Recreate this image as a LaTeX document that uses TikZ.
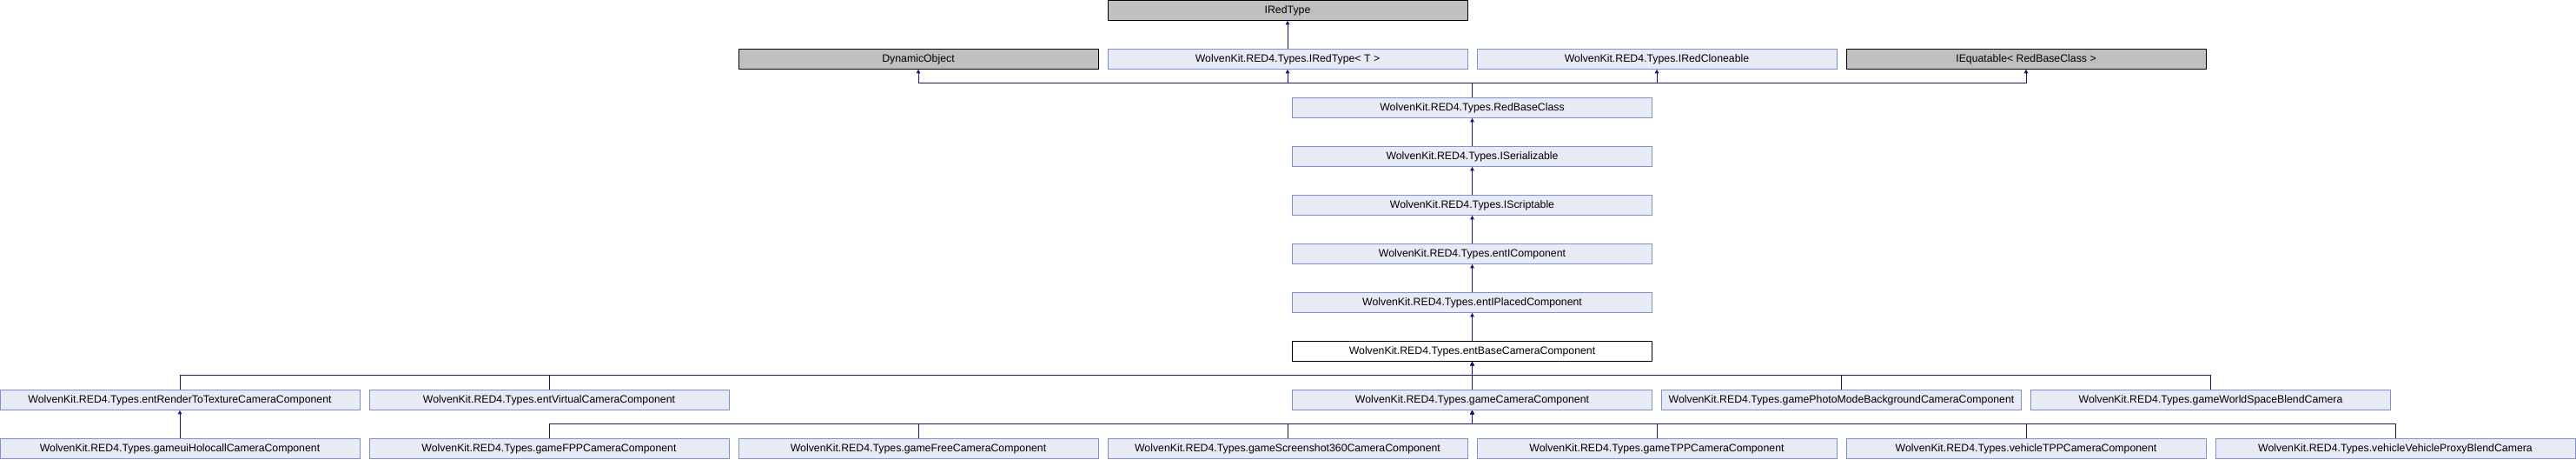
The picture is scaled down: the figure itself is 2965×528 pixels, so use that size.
\documentclass[tikz,border=0pt]{standalone}
\usepackage{fontspec}
\setmainfont{Liberation Sans}
\usetikzlibrary{positioning, arrows.meta}
\definecolor{clsfill}{HTML}{E8EBF5}
\definecolor{clsline}{HTML}{7B93CA}
\definecolor{extfill}{HTML}{BFBFBF}
\definecolor{edgeblue}{HTML}{191970}

\begin{document}
\begin{tikzpicture}[node distance=56pt and 425pt, on grid,
    cls/.style={draw=clsline, fill=clsfill, line width=1pt, minimum width=414pt,
      minimum height=22.6pt, inner sep=0pt, font=\fontsize{12.3}{14}\selectfont},
    ext/.style={cls, draw=black, fill=extfill},
    cur/.style={cls, draw=black, fill=white},
    link/.style={draw=edgeblue, line width=1pt, -{Triangle[length=4.5pt,width=4.5pt]}}]
  \useasboundingbox (0pt,0pt) rectangle (2965pt,-528pt);
  \node[cur] (base) at (1694.5pt,-404pt) {WolvenKit.RED4.Types.entBaseCameraComponent};
  \node[cls] (placed) [above=of base] {WolvenKit.RED4.Types.entIPlacedComponent};
  \node[cls] (icomp) [above=of placed] {WolvenKit.RED4.Types.entIComponent};
  \node[cls] (script) [above=of icomp] {WolvenKit.RED4.Types.IScriptable};
  \node[cls] (serial) [above=of script] {WolvenKit.RED4.Types.ISerializable};
  \node[cls] (redbase) [above=of serial] {WolvenKit.RED4.Types.RedBaseClass};
  \node[cls] (iredtypet) [above left=56pt and 212.5pt of redbase] {WolvenKit.RED4.Types.IRedType< T >};
  \node[ext] (dynobj) [left=of iredtypet] {DynamicObject};
  \node[cls] (clone) [right=of iredtypet] {WolvenKit.RED4.Types.IRedCloneable};
  \node[ext] (equat) [right=of clone] {IEquatable< RedBaseClass >};
  \node[ext] (iredtype) [above=of iredtypet] {IRedType};

  \node[cls] (gamecam) [below=of base] {WolvenKit.RED4.Types.gameCameraComponent};
  \node[cls] (photo) [right=of gamecam] {WolvenKit.RED4.Types.gamePhotoModeBackgroundCameraComponent};
  \node[cls] (world) [right=of photo] {WolvenKit.RED4.Types.gameWorldSpaceBlendCamera};
  \node[cls] (virtual) [left=56pt and 1062.5pt of gamecam] {WolvenKit.RED4.Types.entVirtualCameraComponent};
  \node[cls] (render) [left=of virtual] {WolvenKit.RED4.Types.entRenderToTextureCameraComponent};

  \node[cls] (shot) [below left=56pt and 212.5pt of gamecam] {WolvenKit.RED4.Types.gameScreenshot360CameraComponent};
  \node[cls] (free) [left=of shot] {WolvenKit.RED4.Types.gameFreeCameraComponent};
  \node[cls] (fpp) [left=of free] {WolvenKit.RED4.Types.gameFPPCameraComponent};
  \node[cls] (holo) [left=of fpp] {WolvenKit.RED4.Types.gameuiHolocallCameraComponent};
  \node[cls] (tpp) [right=of shot] {WolvenKit.RED4.Types.gameTPPCameraComponent};
  \node[cls] (vtpp) [right=of tpp] {WolvenKit.RED4.Types.vehicleTPPCameraComponent};
  \node[cls] (proxy) [right=of vtpp] {WolvenKit.RED4.Types.vehicleVehicleProxyBlendCamera};

  \draw[link] (iredtypet.north) -- (iredtype.south);
  \foreach \p in {dynobj,iredtypet,clone,equat}
    \draw[link] (redbase.north) -- ++(0,16.7pt) -| (\p.south);
  \draw[link] (serial.north) -- (redbase.south);
  \draw[link] (script.north) -- (serial.south);
  \draw[link] (icomp.north) -- (script.south);
  \draw[link] (placed.north) -- (icomp.south);
  \draw[link] (base.north) -- (placed.south);
  \foreach \c in {render,virtual,gamecam,photo,world}
    \draw[link] (\c.north) -- ++(0,16.7pt) -| (base.south);
  \draw[link] (holo.north) -- (render.south);
  \foreach \c in {fpp,free,shot,tpp,vtpp,proxy}
    \draw[link] (\c.north) -- ++(0,16.7pt) -| (gamecam.south);
\end{tikzpicture}
\end{document}
